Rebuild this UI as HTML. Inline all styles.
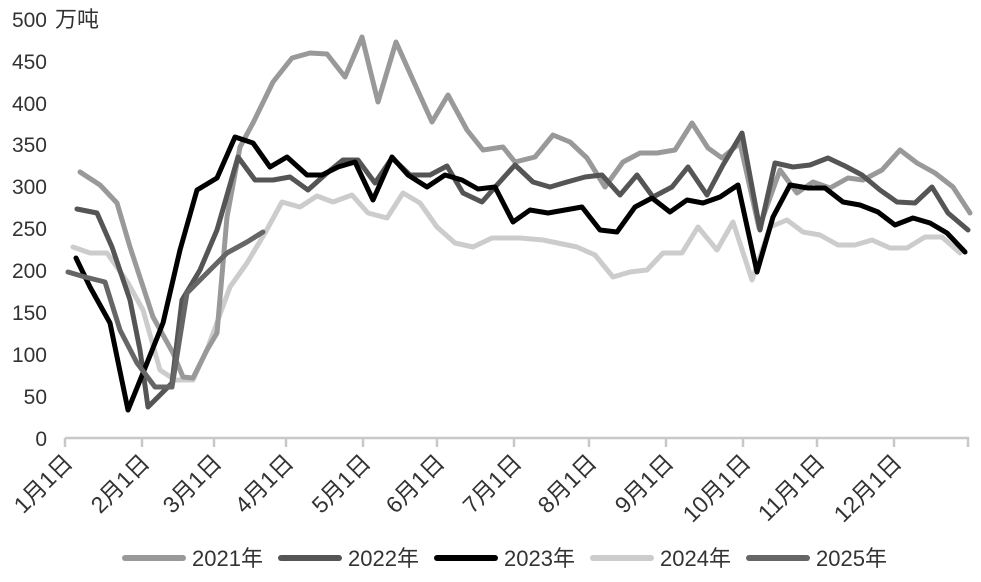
<!DOCTYPE html>
<html><head><meta charset="utf-8"><style>
html,body{margin:0;padding:0;background:#fff;}
svg{display:block;font-family:"Liberation Sans","Noto Sans CJK SC",sans-serif;}
</style></head><body>
<svg width="981" height="582" viewBox="0 0 981 582" xmlns="http://www.w3.org/2000/svg">
<g font-size="21" fill="#333" text-anchor="end">
<text x="47" y="446">0</text>
<text x="47" y="404">50</text>
<text x="47" y="362">100</text>
<text x="47" y="320">150</text>
<text x="47" y="278">200</text>
<text x="47" y="236">250</text>
<text x="47" y="194">300</text>
<text x="47" y="152">350</text>
<text x="47" y="111">400</text>
<text x="47" y="69">450</text>
<text x="47" y="27">500</text>
</g>
<text x="55" y="27" font-size="22" fill="#333">万吨</text>
<g stroke="#c8c8c8" stroke-width="2.5" fill="none">
<line x1="65" y1="438" x2="969" y2="438"/>
<path d="M65 438v9M142 438v9M214 438v9M286 438v9M363 438v9M437 438v9M514 438v9M589 438v9M666 438v9M743 438v9M817 438v9M894 438v9M968 438v9"/>
</g>
<g font-size="23" fill="#333" text-anchor="end">
<text transform="translate(74,464) rotate(-45)">1月1日</text>
<text transform="translate(151,464) rotate(-45)">2月1日</text>
<text transform="translate(223,464) rotate(-45)">3月1日</text>
<text transform="translate(295,464) rotate(-45)">4月1日</text>
<text transform="translate(372,464) rotate(-45)">5月1日</text>
<text transform="translate(446,464) rotate(-45)">6月1日</text>
<text transform="translate(523,464) rotate(-45)">7月1日</text>
<text transform="translate(598,464) rotate(-45)">8月1日</text>
<text transform="translate(675,464) rotate(-45)">9月1日</text>
<text transform="translate(752,464) rotate(-45)">10月1日</text>
<text transform="translate(826,464) rotate(-45)">11月1日</text>
<text transform="translate(903,464) rotate(-45)">12月1日</text>
</g>
<g fill="none" stroke-width="5" stroke-linejoin="round" stroke-linecap="round">
<polyline stroke="#ccc" points="73,247 90,253 107,253 128,283 143,310 160,370 175,380 193,380 208,347 230,287 247,263 265,233 282,202 300,207 317,196 333,202 352,195 368,213 387,218 403,193 420,203 437,227 455,243 473,247 492,238 520,238 543,240 577,247 595,255 613,277 630,272 647,270 663,253 682,253 698,227 717,250 733,222 752,280 770,227 787,220 803,232 820,235 838,245 855,245 872,240 890,248 907,248 925,237 942,237 960,253"/>
<polyline stroke="#999" points="80,172 100,185 117,203 130,247 153,317 173,353 183,377 193,378 207,350 217,333 227,217 240,147 253,123 273,82 292,58 310,53 327,54 345,77 362,37 378,102 396,42 413,80 432,122 448,95 467,130 483,150 503,147 515,162 535,157 553,135 570,142 587,158 605,187 623,162 640,153 657,153 675,150 692,123 708,148 722,158 740,143 759,228 780,170 797,193 813,182 830,188 848,178 863,180 882,170 900,150 917,163 935,173 953,187 970,213"/>
<polyline stroke="#555" points="77,209 97,213 112,247 130,300 140,350 148,407 158,397 172,383 182,300 200,270 217,230 238,157 255,180 273,180 290,177 308,190 327,173 343,160 358,160 375,183 392,158 410,175 430,175 447,166 463,193 482,202 497,185 515,165 533,182 550,187 567,182 585,177 602,175 620,195 637,175 653,197 672,187 688,167 707,195 723,165 742,133 760,230 775,163 793,167 810,165 828,158 845,166 862,175 880,190 897,202 915,203 932,187 948,213 968,230"/>
<polyline stroke="#000" points="76,258 90,287 110,323 128,410 143,373 163,323 180,250 197,190 217,178 235,137 253,143 270,167 287,157 307,175 322,175 338,167 355,162 373,200 392,157 408,175 427,187 445,175 462,180 478,189 495,187 513,222 530,210 548,213 565,210 582,207 600,230 617,232 635,207 652,198 670,212 687,200 703,203 720,197 738,185 757,272 773,217 790,185 808,188 825,188 843,202 860,205 878,212 895,225 913,218 930,223 947,233 965,252"/>
<polyline stroke="#666" points="68,272 85,277 105,282 120,330 137,363 155,387 172,387 187,293 207,273 227,253 247,242 263,232"/>
</g>
<g stroke-width="6" stroke-linecap="round">
<line x1="125" y1="558" x2="183" y2="558" stroke="#999"/>
<line x1="281" y1="558" x2="339" y2="558" stroke="#555"/>
<line x1="437" y1="558" x2="495" y2="558" stroke="#000"/>
<line x1="593" y1="558" x2="651" y2="558" stroke="#ccc"/>
<line x1="749" y1="558" x2="807" y2="558" stroke="#666"/>
</g>
<g font-size="22" fill="#333">
<text x="192" y="566">2021年</text>
<text x="348" y="566">2022年</text>
<text x="504" y="566">2023年</text>
<text x="660" y="566">2024年</text>
<text x="816" y="566">2025年</text>
</g>
</svg>
</body></html>
